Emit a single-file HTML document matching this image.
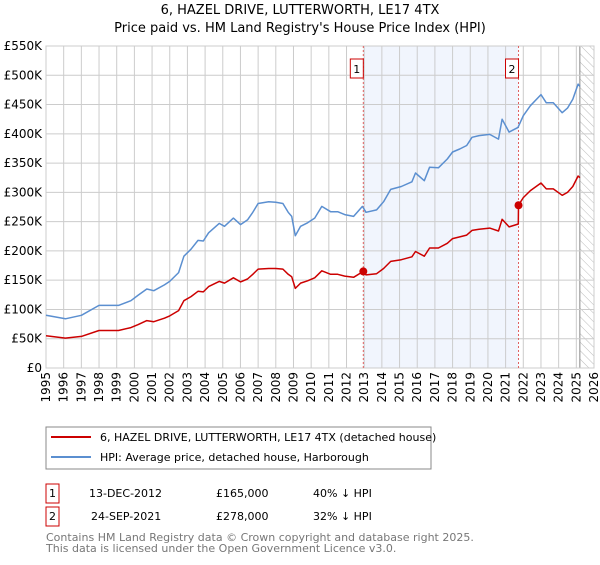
<!DOCTYPE html>
<html><head><meta charset="utf-8"><style>
body{margin:0;background:#fff;font-family:"Liberation Sans","DejaVu Sans",sans-serif;}
svg text{font-family:"DejaVu Sans","Liberation Sans",sans-serif;}
</style></head><body>
<svg id="c" width="600" height="560" xmlns="http://www.w3.org/2000/svg">
<text x="300" y="14" text-anchor="middle" font-size="13">6, HAZEL DRIVE, LUTTERWORTH, LE17 4TX</text>
<text x="300" y="32" text-anchor="middle" font-size="13">Price paid vs. HM Land Registry's House Price Index (HPI)</text>
<g id="plot"></g>
<g>
<rect x="46" y="427" width="385" height="42" fill="#fff" stroke="#888"/>
<line x1="51" y1="437" x2="91" y2="437" stroke="#cc0000" stroke-width="2"/>
<text x="100" y="441" font-size="11">6, HAZEL DRIVE, LUTTERWORTH, LE17 4TX (detached house)</text>
<line x1="51" y1="457" x2="91" y2="457" stroke="#5b8fd0" stroke-width="2"/>
<text x="100" y="461" font-size="11">HPI: Average price, detached house, Harborough</text>
</g>
<g font-size="11">
<rect x="46" y="484" width="13" height="19" fill="#fff" stroke="#cc0000"/>
<text x="52.5" y="497" text-anchor="middle">1</text>
<text x="89" y="497">13-DEC-2012</text>
<text x="216" y="497">£165,000</text>
<text x="313" y="497">40% ↓ HPI</text>
<rect x="46" y="507" width="13" height="19" fill="#fff" stroke="#cc0000"/>
<text x="52.5" y="520" text-anchor="middle">2</text>
<text x="91" y="520">24-SEP-2021</text>
<text x="216" y="520">£278,000</text>
<text x="313" y="520">32% ↓ HPI</text>
</g>
<text x="46" y="541" font-size="11" fill="#777">Contains HM Land Registry data © Crown copyright and database right 2025.</text>
<text x="46" y="552" font-size="11" fill="#777">This data is licensed under the Open Government Licence v3.0.</text>
</svg>
<script>
const hpiDates=[1995,1996.1,1997,1998,1999.1,1999.8,2000.2,2000.7,2001.1,2001.7,2002,2002.5,2002.8,2003.2,2003.6,2003.9,2004.2,2004.8,2005.1,2005.6,2006,2006.4,2006.7,2007,2007.6,2008,2008.4,2008.7,2008.9,2009.1,2009.4,2009.8,2010.2,2010.6,2011.1,2011.5,2011.9,2012.4,2012.9,2013.1,2013.7,2014.1,2014.5,2015.1,2015.7,2015.9,2016.4,2016.7,2017.2,2017.7,2018,2018.4,2018.8,2019.1,2019.5,2020.1,2020.6,2020.8,2021.2,2021.7,2022,2022.4,2023,2023.3,2023.7,2024.2,2024.5,2024.8,2025.1,2025.2];
const hpiValues=[90,84,90,107,107,115,124,135,132,142,148,163,191,203,218,217,231,247,242,256,245,253,266,281,284,283,281,266,259,226,242,248,256,276,267,267,262,259,276,266,270,284,305,310,318,333,320,343,342,357,369,374,380,394,397,399,391,425,403,411,431,448,467,453,453,436,444,459,485,481];
const priceDates=[1995,1996.1,1997,1998,1999.1,1999.8,2000.2,2000.7,2001.1,2001.7,2002,2002.5,2002.8,2003.2,2003.6,2003.9,2004.2,2004.8,2005.1,2005.6,2006,2006.4,2006.7,2007,2007.6,2008,2008.4,2008.7,2008.9,2009.1,2009.4,2009.8,2010.2,2010.6,2011.1,2011.5,2011.9,2012.4,2012.95,2013.1,2013.7,2014.1,2014.5,2015.1,2015.7,2015.9,2016.4,2016.7,2017.2,2017.7,2018,2018.4,2018.8,2019.1,2019.5,2020.1,2020.6,2020.8,2021.2,2021.72,2021.73,2022,2022.4,2023,2023.3,2023.7,2024.2,2024.5,2024.8,2025.1,2025.2];
const priceValues=[55,51,54,64,64,69,74,81,79,85,89,98,115,122,131,130,139,148,145,154,147,152,160,169,170,170,169,160,156,136,145,149,154,166,160,160,157,155,165,159,161,170,182,185,190,199,191,205,205,213,221,224,227,235,237,239,234,254,241,246,278,291,303,316,306,306,295,300,310,328,325];
const saleDates=[2012.95,2021.73];
const saleValues=[165,278];
const saleLabels=["1","2"];
const yTicks=[0,50,100,150,200,250,300,350,400,450,500,550];
const yTickLabels=["£0","£50K","£100K","£150K","£200K","£250K","£300K","£350K","£400K","£450K","£500K","£550K"];
const xTicks=[1995,1996,1997,1998,1999,2000,2001,2002,2003,2004,2005,2006,2007,2008,2009,2010,2011,2012,2013,2014,2015,2016,2017,2018,2019,2020,2021,2022,2023,2024,2025,2026];

const L=46,R=594,T=46,B=368,X0=1995,X1=2026,YMAX=550;
const xs=v=>L+(v-X0)/(X1-X0)*(R-L);
const ys=v=>B-v/YMAX*(B-T);
const NS="http://www.w3.org/2000/svg";
const g=document.getElementById('plot');
function mk(tag,attrs,parent){const e=document.createElementNS(NS,tag);for(const k in attrs)e.setAttribute(k,attrs[k]);(parent||g).appendChild(e);return e;}

let sh=mk('rect',{x:xs(saleDates[0]),y:T,width:xs(saleDates[1])-xs(saleDates[0]),height:B-T,fill:'#eef3fc',opacity:0.8});


const defs=mk('defs',{});
const pat=mk('pattern',{id:'hatch',width:6,height:6,patternUnits:'userSpaceOnUse',patternTransform:'rotate(-45)'},defs);
mk('line',{x1:0,y1:0,x2:0,y2:6,stroke:'#bbb','stroke-width':1},pat);
let hx=xs(2025.2);
let ht=mk('rect',{x:hx,y:T,width:R-hx,height:B-T,fill:'url(#hatch)'});


mk('line',{x1:hx,y1:T,x2:hx,y2:B,stroke:'#888','stroke-width':1});
yTicks.forEach((v,i)=>{
  mk('line',{x1:L,y1:ys(v),x2:R,y2:ys(v),stroke:'#ccc','stroke-width':1});
  const t=mk('text',{x:L-4,y:ys(v)+4,'text-anchor':'end','font-size':12});
  t.textContent=yTickLabels[i];
  
  
});
xTicks.forEach(v=>{
  mk('line',{x1:xs(v),y1:T,x2:xs(v),y2:B,stroke:'#ccc','stroke-width':1});
  const t=mk('text',{x:0,y:0,'text-anchor':'end','font-size':12,transform:`translate(${xs(v)+4},${B+4}) rotate(-90)`});
  t.textContent=String(v);
  
  
});
mk('rect',{x:L,y:T,width:R-L,height:B-T,fill:'none',stroke:'#ccc'});
saleDates.forEach((d,i)=>{
  const l=mk('line',{x1:xs(d),y1:T,x2:xs(d),y2:B,stroke:'#e06060','stroke-width':1,'stroke-dasharray':'2,2'});
  
  
});
function line(dates,vals,color,name){
  const p=mk('polyline',{points:dates.map((d,i)=>xs(d).toFixed(1)+','+ys(vals[i]).toFixed(1)).join(' '),fill:'none',stroke:color,'stroke-width':1.5,'stroke-linejoin':'round'});
  
  
}
line(hpiDates,hpiValues,'#5b8fd0','hpi-line');
line(priceDates,priceValues,'#cc0000','price-paid-line');
saleDates.forEach((d,i)=>{
  const c=mk('circle',{cx:xs(d),cy:ys(saleValues[i]),r:4,fill:'#cc0000'});
  
  
  const bx=xs(d)-13;
  const r=mk('rect',{x:bx,y:T+13,width:13,height:19,fill:'#fff',stroke:'#cc0000'});
  
  
  const t=mk('text',{x:bx+6.5,y:T+27,'text-anchor':'middle','font-size':11});
  t.textContent=saleLabels[i];
  
  
});
</script>
</body></html>
